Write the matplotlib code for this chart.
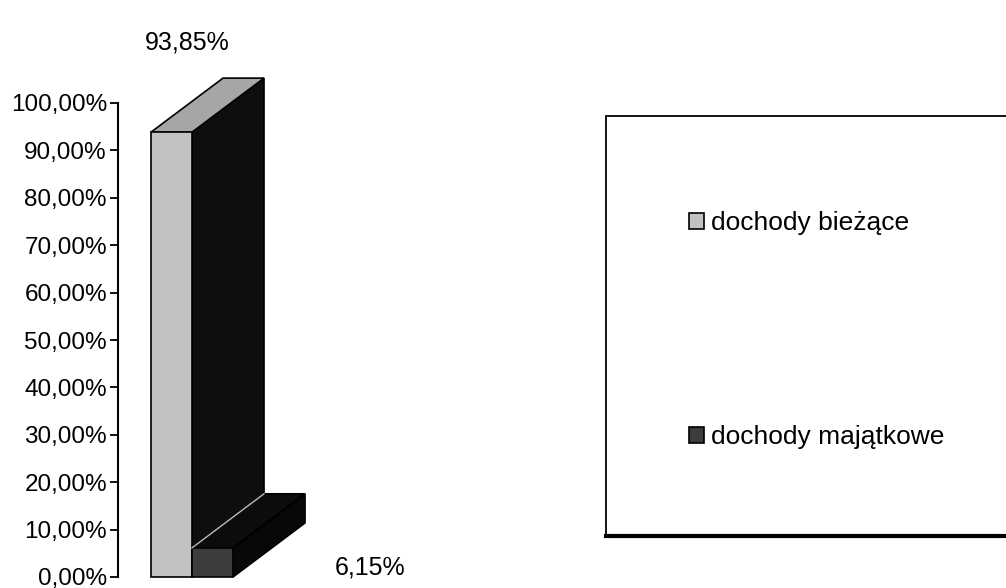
import matplotlib
matplotlib.use('Agg')
from matplotlib import pyplot as plt
from matplotlib.patches import Polygon, Rectangle, Patch
from matplotlib.ticker import FuncFormatter, MultipleLocator

plt.rcParams['font.family'] = ['Liberation Sans', 'DejaVu Sans']

categories = ['dochody bieżące', 'dochody majątkowe']
values = [93.85, 6.15]
value_labels = ['93,85%', '6,15%']

front_colors = ['#c2c2c2', '#3c3c3c']
top_colors = ['#a6a6a6', '#0c0c0c']
side_colors = ['#0e0e0e', '#080808']

# 3d look: depth offset in data units
dx, dy = 1.756, 11.4
width = 1.0

W, H = 1006, 588
fig = plt.figure(figsize=(W / 100, H / 100), dpi=100)
ax = fig.add_axes([118 / W, 11 / H, 482 / W, 474 / H])
ax.set_xlim(-1.305, 10.45)
ax.set_ylim(0, 100)

for i, (v, fc, tc, sc) in enumerate(zip(values, front_colors, top_colors, side_colors)):
    x0 = i - width / 2
    x1 = i + width / 2
    side = Polygon([(x1, 0), (x1 + dx, dy), (x1 + dx, v + dy), (x1, v)],
                   closed=True, facecolor=sc, edgecolor='black', lw=1.2, clip_on=False)
    top = Polygon([(x0, v), (x0 + dx, v + dy), (x1 + dx, v + dy), (x1, v)],
                  closed=True, facecolor=tc, edgecolor='black', lw=1.2, clip_on=False)
    ax.add_patch(side)
    ax.add_patch(top)
    ax.bar(i, v, width=width, color=fc, edgecolor='black', lw=1.2, clip_on=False)
    if i > 0:
        # light seam where the smaller bar meets the back face
        ax.plot([x0, x0 + dx], [v, v + dy], color='#bdbdbd', lw=1, clip_on=False)

label_pos = [(0.38, values[0] + 19.0), (4.84, 2.1)]
for (lx, ly), txt in zip(label_pos, value_labels):
    ax.text(lx, ly, txt, ha='center', va='center', fontsize=18, clip_on=False)

ax.yaxis.set_major_locator(MultipleLocator(10))
ax.yaxis.set_major_formatter(FuncFormatter(lambda v, p: f'{v:.2f}%'.replace('.', ',')))
ax.tick_params(axis='y', length=6, width=1.3, pad=2, labelsize=17.5, direction='out')
ax.tick_params(axis='x', bottom=False, labelbottom=False)
for s in ['top', 'right', 'bottom']:
    ax.spines[s].set_visible(False)
ax.spines['left'].set_linewidth(1.5)
ax.patch.set_visible(False)

# legend box (runs off the right edge)
fig.patches.append(Rectangle((606 / W, (H - 536) / H), 420 / W, 420 / H,
                             transform=fig.transFigure, facecolor='white',
                             edgecolor='black', lw=1.3, zorder=0))
fig.lines.append(plt.Line2D([606 / W, 1], [(H - 536) / H, (H - 536) / H],
                            transform=fig.transFigure, color='black', lw=3))

handles = [Patch(facecolor=fc, edgecolor='black', lw=1.2) for fc in front_colors]
leg = fig.legend(handles, categories, loc='upper left',
                 bbox_to_anchor=(676 / W, 1 - 198 / H),
                 frameon=False, fontsize=19, handlelength=0.55, handleheight=0.55,
                 handletextpad=0.27, labelspacing=7.2, borderpad=0)

fig.savefig('out.png', dpi=100)
